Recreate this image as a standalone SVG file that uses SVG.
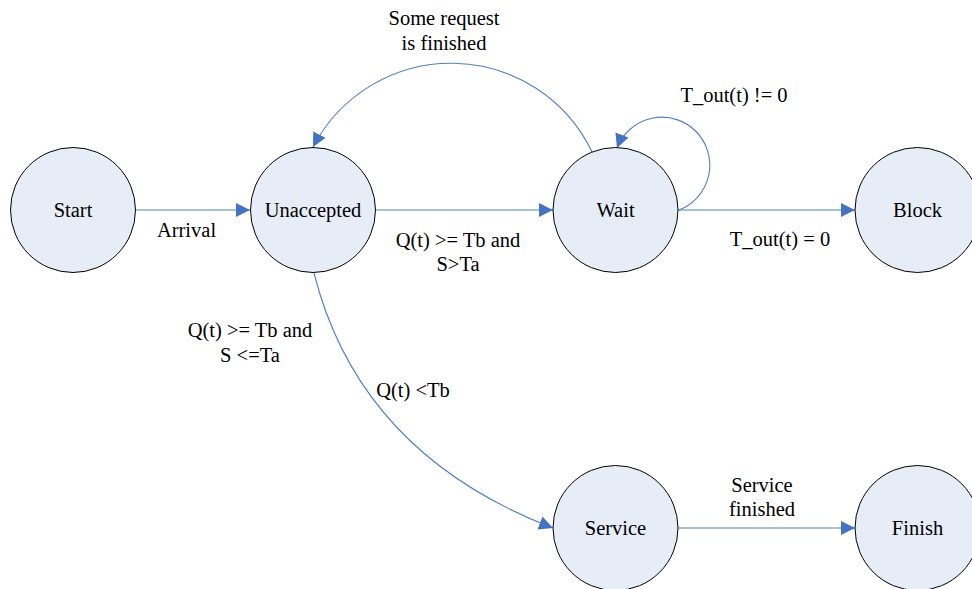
<svg xmlns="http://www.w3.org/2000/svg" width="972" height="589" viewBox="0 0 972 589">
  <style>
    .state circle { fill: #E7EDF7; stroke: #000000; stroke-width: 1; }
    .edge { fill: none; stroke: #4F81BD; stroke-width: 1.1; marker-end: url(#arrow); }
  </style>
  <defs>
    <marker id="arrow" markerUnits="userSpaceOnUse" markerWidth="16" markerHeight="16" refX="14" refY="7" orient="auto">
      <path d="M0,0 L14,7 L0,14 Z" fill="#4472C4"/>
    </marker>
  </defs>
  <rect x="0" y="0" width="972" height="589" fill="#FFFFFF"/>

  <!-- transitions -->
  <g id="connectors">
    <path class="edge" d="M136,210 L250,210"/>
    <path class="edge" d="M376,210 L553,210"/>
    <path class="edge" d="M678,210 L855,210"/>
    <path class="edge" d="M678,528 L855,528"/>
    <path class="edge" d="M592,152 A156,156 0 0 0 313,147"/>
    <path class="edge" d="M679,210 A48,48 0 1 0 617,148"/>
    <path class="edge" d="M314,273 C347,404 436,483 553,528"/>
  </g>

  <g font-family="Liberation Serif, DejaVu Serif, serif" font-size="20.5" fill="#000000" text-anchor="middle">
    <!-- transition labels -->
    <g id="labels">
      <text x="186.5" y="237">Arrival</text>
      <text x="444" y="25">Some request</text>
      <text x="444" y="50">is finished</text>
      <text x="734" y="102">T_out(t) != 0</text>
      <text x="780" y="246">T_out(t) = 0</text>
      <text x="458" y="247">Q(t) &gt;= Tb and</text>
      <text x="458" y="271">S&gt;Ta</text>
      <text x="250" y="337">Q(t) &gt;= Tb and</text>
      <text x="250" y="362">S &lt;=Ta</text>
      <text x="413" y="397">Q(t) &lt;Tb</text>
      <text x="762" y="492">Service</text>
      <text x="762" y="516">finished</text>
    </g>

    <!-- states -->
    <g id="start" class="state">
      <circle cx="73" cy="210" r="62.5"/>
      <text x="73" y="217">Start</text>
    </g>
    <g id="unaccepted" class="state">
      <circle cx="313" cy="210" r="62.5"/>
      <text x="313" y="217">Unaccepted</text>
    </g>
    <g id="wait" class="state">
      <circle cx="615.5" cy="210" r="62.5"/>
      <text x="615.5" y="217">Wait</text>
    </g>
    <g id="block" class="state">
      <circle cx="917.5" cy="210" r="62.5"/>
      <text x="917.5" y="217">Block</text>
    </g>
    <g id="service" class="state">
      <circle cx="615.5" cy="528" r="62.5"/>
      <text x="615.5" y="535">Service</text>
    </g>
    <g id="finish" class="state">
      <circle cx="917.5" cy="528" r="62.5"/>
      <text x="917.5" y="535">Finish</text>
    </g>
  </g>
</svg>
